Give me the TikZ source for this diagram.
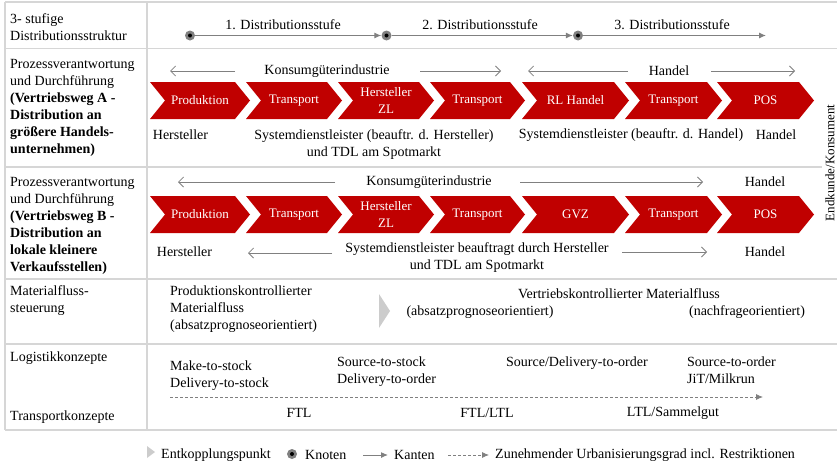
\documentclass[tikz,border=0pt]{standalone}
\usepackage{fontspec}
\setmainfont{Liberation Serif}
\usetikzlibrary{arrows.meta, positioning}

\definecolor{chevred}{HTML}{C00000}
\definecolor{linegray}{HTML}{D6D6D6}
\definecolor{arrowgray}{HTML}{808080}

% chevron: name, left x, tip x, mid y, label
\newcommand{\flowchev}[5]{%
  \fill[chevred] (#2,#4-18.5) -- ({#3-15},#4-18.5) -- (#3,#4) -- ({#3-15},#4+18.5) -- (#2,#4+18.5) -- ({#2+15},#4) -- cycle;
  \node[chevlabel] (#1) at ({(#2+#3)/2},#4) {#5};}

\begin{document}
\begin{tikzpicture}[
    x=1pt, y=-1pt,
    font=\fontsize{14}{17}\selectfont,
    tabline/.style={draw=linegray, line width=1.5pt},
    lbl/.style={anchor=north west, align=left, inner sep=0pt},
    txt/.style={align=center, inner sep=0pt},
    chevlabel/.style={text=white, font=\fontsize{13}{17}\selectfont, align=center, inner sep=0pt},
    knoten/.style={circle, fill=arrowgray, minimum size=10pt, inner sep=0pt, path picture={\fill[black] (path picture bounding box.center) circle (2pt);}},
    kante/.style={-{Latex[length=7pt, width=6pt]}, draw=arrowgray, line width=1pt},
    spanarrow/.style={-{Straight Barb[length=5pt, width=10pt]}, draw=arrowgray, line width=0.8pt},
    urban/.style={-{Latex[length=7pt, width=6pt]}, draw=arrowgray, dash pattern=on 3pt off 2pt, line width=0.8pt},
    entk/.style={fill=gray!40}
]
\useasboundingbox (0,0) rectangle (837,466);

% Table lines
\draw[tabline] (5,2) -- (837,2);
\draw[tabline] (5,48.5) -- (837,48.5);
\draw[tabline] (5,167) -- (822,167);
\draw[tabline] (5,279) -- (837,279);
\draw[tabline] (5,344) -- (837,344);
\draw[tabline] (5,430) -- (837,430);
\draw[tabline] (5,2) -- (5,430);
\draw[tabline] (147,2) -- (147,430);

% Row labels
\node[lbl] (lblstruktur) at (10,13) {3- stufige\\Distributionsstruktur};
\node[lbl] (lblwegA) at (10,59) {Prozessverantwortung\\und Durchführung\\\textbf{(Vertriebsweg A -}\\\textbf{Distribution an}\\\textbf{größere Handels-}\\\textbf{unternehmen)}};
\node[lbl] (lblwegB) at (10,177.5) {Prozessverantwortung\\und Durchführung\\\textbf{(Vertriebsweg B -}\\\textbf{Distribution an}\\\textbf{lokale kleinere}\\\textbf{Verkaufsstellen)}};
\node[lbl] (lblmaterial) at (10,285.5) {Materialfluss-\\steuerung};
\node[anchor=west, inner sep=0pt] (lbllogistik) at (10,358) {Logistikkonzepte};
\node[anchor=west, inner sep=0pt] (lbltransport) at (10,417) {Transportkonzepte};

% Distributionsstufen
\node[knoten] (k1) at (190,35.5) {};
\node[knoten] (k2) at (386.5,35.5) {};
\node[knoten] (k3) at (578,35.5) {};
\coordinate (kend) at (766,35.5);
\node[txt] (stufe1) at (283,24.5) {1. Distributionsstufe};
\node[txt] (stufe2) at (480,24.5) {2. Distributionsstufe};
\node[txt] (stufe3) at (672,24.5) {3. Distributionsstufe};
\draw[kante] (k1) -- (k2);
\draw[kante] (k2) -- (k3);
\draw[kante] (k3) -- (kend);

% Vertriebsweg A
\node[txt] (konsumA) at (327,71) {Konsumgüterindustrie};
\node[txt] (handelA) at (669,71) {Handel};
\coordinate (spA1s) at (235,71); \coordinate (spA1e) at (170,71);
\coordinate (spA2s) at (420,71); \coordinate (spA2e) at (501,71);
\coordinate (spA3s) at (628,71); \coordinate (spA3e) at (528,71);
\coordinate (spA4s) at (711,71); \coordinate (spA4e) at (795,71);
\draw[spanarrow] (spA1s) -- (spA1e);
\draw[spanarrow] (spA2s) -- (spA2e);
\draw[spanarrow] (spA3s) -- (spA3e);
\draw[spanarrow] (spA4s) -- (spA4e);

\flowchev{cA1}{150}{250}{100.5}{Produktion}
\flowchev{cA2}{246}{342}{100.5}{Transport}
\flowchev{cA3}{338}{434}{100.5}{Hersteller\\ZL}
\flowchev{cA4}{430}{525}{100.5}{Transport}
\flowchev{cA5}{522}{629}{100.5}{RL Handel}
\flowchev{cA6}{625}{722}{100.5}{Transport}
\flowchev{cA7}{717}{814}{100.5}{POS}

\node[txt] (herstA) at (180.5,135) {Hersteller};
\node[txt, anchor=north] (sdlA) at (374,129.7) {Systemdienstleister (beauftr. d. Hersteller)\\und TDL am Spotmarkt};
\node[txt] (sdlhandelA) at (631,135) {Systemdienstleister (beauftr. d. Handel)};
\node[txt] (handelA2) at (776,135) {Handel};

% Vertriebsweg B
\node[txt] (konsumB) at (429,182) {Konsumgüterindustrie};
\node[txt] (handelB) at (765,182) {Handel};
\coordinate (spB1s) at (335,182); \coordinate (spB1e) at (178,182);
\coordinate (spB2s) at (520,182); \coordinate (spB2e) at (703,182);
\draw[spanarrow] (spB1s) -- (spB1e);
\draw[spanarrow] (spB2s) -- (spB2e);

\flowchev{cB1}{150}{250}{214.5}{Produktion}
\flowchev{cB2}{246}{342}{214.5}{Transport}
\flowchev{cB3}{338}{434}{214.5}{Hersteller\\ZL}
\flowchev{cB4}{430}{525}{214.5}{Transport}
\flowchev{cB5}{522}{629}{214.5}{GVZ}
\flowchev{cB6}{625}{722}{214.5}{Transport}
\flowchev{cB7}{717}{814}{214.5}{POS}

\node[txt] (herstB) at (184.5,252) {Hersteller};
\node[txt, anchor=north] (sdlB) at (477,242.7) {Systemdienstleister beauftragt durch Hersteller\\und TDL am Spotmarkt};
\node[txt] (handelB2) at (765,252) {Handel};
\coordinate (spB3s) at (332,253); \coordinate (spB3e) at (248,253);
\coordinate (spB4s) at (622,252); \coordinate (spB4e) at (707,252);
\draw[spanarrow] (spB3s) -- (spB3e);
\draw[spanarrow] (spB4s) -- (spB4e);

% Endkunde
\node[rotate=90, inner sep=0pt, font=\fontsize{13}{15}\selectfont] (endkunde) at (830,163) {Endkunde/Konsument};

% Materialflusssteuerung
\node[lbl] (prodkontr) at (170,286) {Produktionskontrollierter\\Materialfluss\\(absatzprognoseorientiert)};
\fill[entk] (379,294) -- (390,311) -- (379,328) -- cycle;
\node[txt] (vertrkontr) at (619,294) {Vertriebskontrollierter Materialfluss};
\node[txt] (absatz) at (480,312) {(absatzprognoseorientiert)};
\node[txt] (nachfrage) at (747,312) {(nachfrageorientiert)};

% Logistikkonzepte
\node[lbl] (mts) at (170,361) {Make-to-stock\\Delivery-to-stock};
\node[lbl] (sts) at (337,356.5) {Source-to-stock\\Delivery-to-order};
\node[lbl] (sdo) at (506,356.5) {Source/Delivery-to-order};
\node[lbl] (sto) at (687,356.5) {Source-to-order\\JiT/Milkrun};
\coordinate (urbs) at (170,397); \coordinate (urbe) at (763,397);
\draw[urban] (urbs) -- (urbe);

% Transportkonzepte
\node[txt] (ftl) at (299,413) {FTL};
\node[txt] (ftlltl) at (487,413) {FTL/LTL};
\node[txt] (ltl) at (673,413) {LTL/Sammelgut};

% Legend
\fill[entk] (147,446) -- (155,452) -- (147,458) -- cycle;
\node[anchor=west, inner sep=0pt] (legentk) at (161,455) {Entkopplungspunkt};
\node[knoten] (legknoten) at (292,454) {};
\node[anchor=west, inner sep=0pt] (legknotentxt) at (305,455) {Knoten};
\coordinate (legks) at (363,455); \coordinate (legke) at (388,455);
\draw[kante] (legks) -- (legke);
\node[anchor=west, inner sep=0pt] (legkanten) at (394,455) {Kanten};
\coordinate (legus) at (448,455); \coordinate (legue) at (489,455);
\draw[urban] (legus) -- (legue);
\node[anchor=west, inner sep=0pt] (legurban) at (495,455) {Zunehmender Urbanisierungsgrad incl. Restriktionen};

\end{tikzpicture}
\end{document}
